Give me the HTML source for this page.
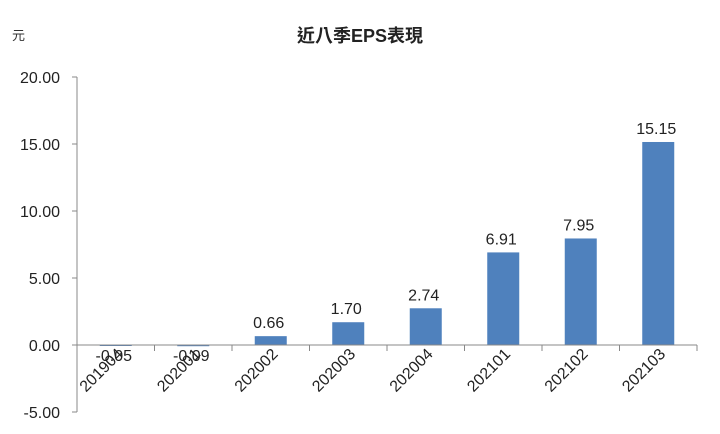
<!DOCTYPE html>
<html><head><meta charset="utf-8"><style>
body{margin:0;background:#fff;}
svg{display:block;font-family:"Liberation Sans","Noto Sans CJK TC",sans-serif;}
</style></head><body>
<svg width="720" height="434" id="chart">
<text x="360" y="42" text-anchor="middle" font-size="18" font-weight="bold" fill="#222">近八季EPS表現</text>
<text x="12" y="40" font-size="13" fill="#333">元</text>
<g id="g"></g>
</svg>
<script>
const categories=["201904","202001","202002","202003","202004","202101","202102","202103"];
const values=[-0.05,-0.09,0.66,1.70,2.74,6.91,7.95,15.15];
const ticks=[-5,0,5,10,15,20];
const x0=77,step=77.5,yZero=345,pxPer=13.4;
const y=v=>yZero-v*pxPer;
const g=document.getElementById('g');
const NS='http://www.w3.org/2000/svg';
function mk(t,a){const e=document.createElementNS(NS,t);for(const k in a)e.setAttribute(k,a[k]);g.appendChild(e);return e;}
ticks.forEach(t=>{
 const e=mk('text',{x:60,y:y(t)+6,'text-anchor':'end','font-size':16,fill:'#222'});
 e.textContent=t.toFixed(2);
 
 
 const l=mk('line',{x1:x0-5,x2:x0,y1:y(t),y2:y(t),stroke:'#888'});
 
 
});
const ya=mk('line',{x1:x0,x2:x0,y1:y(20),y2:y(-5),stroke:'#888'});


categories.forEach((c,i)=>{
 const cx=x0+step*(i+0.5),v=values[i];
 const r=mk('rect',{x:cx-16,width:32,y:Math.min(y(v),yZero),height:Math.max(Math.abs(y(v)-yZero),1),fill:'#4f81bd'});
 
 
 const lb=mk('text',{x:cx-2,y:v<0?yZero+16:y(v)-8,'text-anchor':'middle','font-size':16,fill:'#222'});
 lb.textContent=v.toFixed(2);
 
 
 const tk=mk('line',{x1:x0+step*(i+1),x2:x0+step*(i+1),y1:yZero,y2:yZero+6,stroke:'#888'});
 
 
 const xl=mk('text',{x:cx+8,y:yZero+10,'text-anchor':'end','font-size':16,fill:'#222',transform:`rotate(-45 ${cx+8} ${yZero+10})`});
 xl.textContent=c;
 
 
});
const xa=mk('line',{x1:x0,x2:x0+step*8,y1:yZero,y2:yZero,stroke:'#888'});


</script>
</body></html>
